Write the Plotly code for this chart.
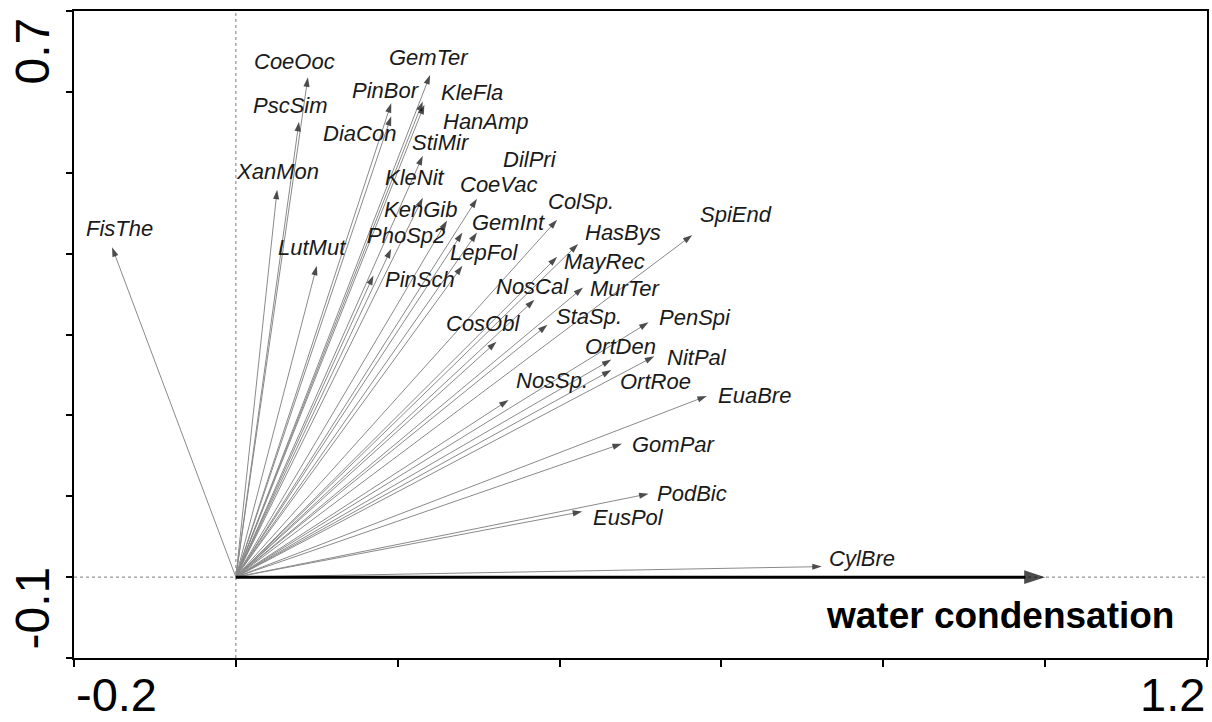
import plotly.graph_objects as go

# Species response vectors (biplot arrow tips, axis 1 / axis 2)
species = [
    "FisThe", "CoeOoc", "PscSim", "XanMon", "LutMut", "GemTer", "PinBor", "DiaCon",
    "KleFla", "HanAmp", "StiMir", "KleNit", "KenGib", "PhoSp2", "PinSch", "DilPri",
    "CoeVac", "GemInt", "LepFol", "ColSp.", "HasBys", "MayRec", "NosCal", "MurTer",
    "CosObl", "StaSp.", "SpiEnd", "PenSpi", "OrtDen", "NitPal", "OrtRoe", "NosSp.",
    "EuaBre", "GomPar", "PodBic", "EusPol", "CylBre",
]
axis1 = [
    -0.153, 0.089, 0.078, 0.051, 0.100, 0.240, 0.192, 0.192,
    0.231, 0.233, 0.231, 0.231, 0.261, 0.192, 0.170, 0.280,
    0.298, 0.298, 0.280, 0.397, 0.423, 0.397, 0.369, 0.429,
    0.322, 0.385, 0.564, 0.510, 0.464, 0.517, 0.464, 0.337,
    0.582, 0.477, 0.510, 0.428, 0.724,
]
axis2 = [
    0.408, 0.618, 0.563, 0.479, 0.385, 0.621, 0.586, 0.570,
    0.588, 0.584, 0.521, 0.469, 0.441, 0.406, 0.373, 0.426,
    0.468, 0.426, 0.385, 0.442, 0.412, 0.396, 0.343, 0.358,
    0.291, 0.312, 0.423, 0.315, 0.269, 0.273, 0.256, 0.219,
    0.224, 0.165, 0.103, 0.081, 0.013,
]

# Where each species name is written (label centres, axis units)
label_x = [
    -0.144, 0.073, 0.067, 0.051, 0.094, 0.239, 0.186, 0.153,
    0.292, 0.309, 0.254, 0.221, 0.228, 0.210, 0.227, 0.364,
    0.324, 0.337, 0.306, 0.427, 0.478, 0.456, 0.367, 0.481,
    0.305, 0.436, 0.618, 0.567, 0.475, 0.570, 0.519, 0.391,
    0.641, 0.541, 0.564, 0.485, 0.774,
]
label_y = [
    0.431, 0.638, 0.583, 0.501, 0.407, 0.643, 0.602, 0.548,
    0.599, 0.563, 0.537, 0.494, 0.454, 0.423, 0.368, 0.516,
    0.485, 0.439, 0.401, 0.464, 0.426, 0.390, 0.359, 0.357,
    0.314, 0.322, 0.448, 0.321, 0.285, 0.272, 0.242, 0.243,
    0.224, 0.164, 0.104, 0.074, 0.023,
]

# Environmental variable
env_name = "water condensation"
env_axis1 = 1.0
env_axis2 = 0.0

# Axis ranges and end labels
x_range = [-0.2, 1.2]
y_range = [-0.1, 0.7]
x_end_labels = ["-0.2", "1.2"]
y_end_labels = ["-0.1", "0.7"]

FONT = "Liberation Sans, Arial, sans-serif"

fig = go.Figure()

# Species arrows: thin grey shaft, small black head
for name, sx, sy in zip(species, axis1, axis2):
    fig.add_trace(go.Scatter(
        x=[0, sx], y=[0, sy],
        mode="lines+markers",
        line=dict(color="#8a8a8a", width=1),
        marker=dict(symbol="arrow", angleref="previous", size=[0, 10],
                    color="#000000", line=dict(width=0)),
        hoverinfo="text", text=["", name],
        showlegend=False,
    ))

# Environmental arrow: heavy black
fig.add_trace(go.Scatter(
    x=[0, env_axis1], y=[0, env_axis2],
    mode="lines+markers",
    line=dict(color="#000000", width=3),
    marker=dict(symbol="arrow", angleref="previous", size=[0, 22],
                color="#000000", line=dict(width=0)),
    hoverinfo="skip", showlegend=False,
))

annotations = []
for name, lx, ly in zip(species, label_x, label_y):
    annotations.append(dict(
        x=lx, y=ly, xref="x", yref="y", text=name, showarrow=False,
        xanchor="center", yanchor="middle",
        font=dict(family=FONT, size=22, color="#1a1a1a", style="italic"),
    ))

annotations.append(dict(
    x=0.944, y=-0.047, xref="x", yref="y", text="<b>" + env_name + "</b>",
    showarrow=False, xanchor="center", yanchor="middle",
    font=dict(family=FONT, size=37, color="#000000"),
))

# End labels of the axes
annotations.append(dict(x=0, y=0, xref="paper", yref="paper", text=x_end_labels[0],
                        showarrow=False, xanchor="left", yanchor="middle",
                        xshift=0, yshift=-36,
                        font=dict(family=FONT, size=47, color="#000000")))
annotations.append(dict(x=1, y=0, xref="paper", yref="paper", text=x_end_labels[1],
                        showarrow=False, xanchor="right", yanchor="middle",
                        xshift=0, yshift=-36,
                        font=dict(family=FONT, size=47, color="#000000")))
annotations.append(dict(x=0, y=0, xref="paper", yref="paper", text=y_end_labels[0],
                        showarrow=False, xanchor="center", yanchor="bottom",
                        textangle=-90, xshift=-42, yshift=6,
                        font=dict(family=FONT, size=48, color="#000000")))
annotations.append(dict(x=0, y=1, xref="paper", yref="paper", text=y_end_labels[1],
                        showarrow=False, xanchor="center", yanchor="top",
                        textangle=-90, xshift=-42, yshift=-5,
                        font=dict(family=FONT, size=48, color="#000000")))

# Dotted reference lines through the origin
shapes = [
    dict(type="line", xref="x", yref="paper", x0=0, x1=0, y0=0, y1=1,
         line=dict(color="#7a7a7a", width=1, dash="dot"), layer="below"),
    dict(type="line", xref="paper", yref="y", x0=0, x1=1, y0=0, y1=0,
         line=dict(color="#7a7a7a", width=1, dash="dot"), layer="below"),
]

fig.update_layout(
    width=1212, height=722,
    margin=dict(l=74, r=3, t=11, b=64),
    paper_bgcolor="white", plot_bgcolor="white",
    annotations=annotations, shapes=shapes,
    xaxis=dict(range=x_range, tick0=-0.2, dtick=0.2, ticks="outside",
               ticklen=7, tickwidth=2, tickcolor="black",
               showticklabels=False, showgrid=False, zeroline=False,
               showline=True, linewidth=2, linecolor="black", mirror=True),
    yaxis=dict(range=y_range, tick0=-0.1, dtick=0.1, ticks="outside",
               ticklen=6, tickwidth=2, tickcolor="black",
               showticklabels=False, showgrid=False, zeroline=False,
               showline=True, linewidth=2, linecolor="black", mirror=True),
    hovermode="closest",
)

fig.write_html("out.html")
